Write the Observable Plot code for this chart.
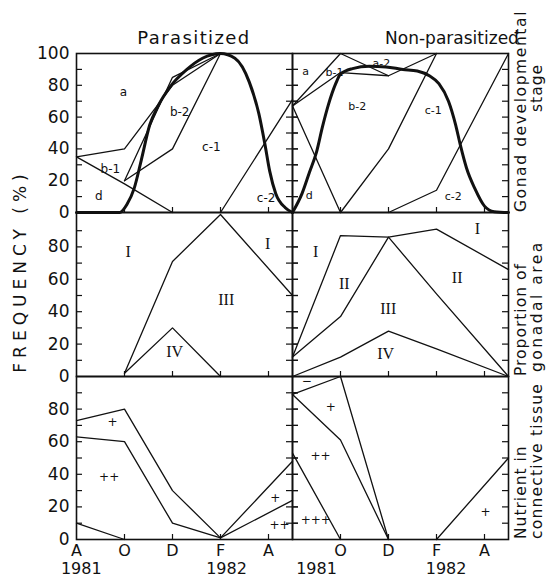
<!DOCTYPE html>
<html><head><meta charset="utf-8">
<script src="https://cdn.jsdelivr.net/npm/d3@7"></script>
<script src="https://cdn.jsdelivr.net/npm/@observablehq/plot@0.6"></script>
<style>
html,body{margin:0;padding:0;background:#fff;}
#chart{position:relative;width:547px;height:585px;overflow:hidden;font-family:"DejaVu Sans",sans-serif;}
#chart svg{position:absolute;overflow:visible;max-width:none;}
</style></head><body><div id="chart"></div>
<script>
// ---------- tick labels ----------
const monthTicksLeft = [0, 2, 4, 6, 8];
const monthTicksRight = [2, 4, 6, 8];
const monthNames = ["A", "O", "D", "F", "A"];
const yTickLabelsTop = [0, 20, 40, 60, 80, 100];
const yTickLabelsLow = [0, 20, 40, 60, 80];
const yMinorTicks = [10, 20, 30, 40, 50, 60, 70, 80, 90];
const innerMonthTicks = [2, 4, 6, 8];
const yearsLeft = [{x: 0.2, label: "1981"}, {x: 6.25, label: "1982"}];
const yearsRight = [{x: 1.0, label: "1981"}, {x: 6.4, label: "1982"}];

// ---------- Gonad developmental stage : parasitized ----------
const parStageA   = [[0,35],[2,40],[4,80],[6,100]];
const parStageD   = [[0,35],[2,18],[4,0]];
const parStageB1  = [[2,20],[4,85],[6,100]];
const parStageB2  = [[2,20],[4,40],[6,100]];
const parStageC2  = [[6,0],[9,71]];
const parStageSmooth = [[0,0],[1.8,0],[2.1,5],[2.4,15],[2.7,33],[3.05,55],[3.4,67],[3.9,79],[4.6,90],[5.25,97],[6,100],[6.6,97],[7.2,82],[7.6,62],[7.85,43],[8.05,26],[8.3,12],[8.7,3],[9,0]];
const parStageLabels = [
  {x:1.96,y:76,t:"a"},{x:1.41,y:27,t:"b-1"},{x:0.93,y:10,t:"d"},
  {x:4.3,y:63,t:"b-2"},{x:5.62,y:41,t:"c-1"},{x:7.9,y:9,t:"c-2"}];

// ---------- Gonad developmental stage : non-parasitized ----------
const nonStageA   = [[0,67],[2,100],[4,86],[6,100]];
const nonStageB1  = [[0,67],[2,88],[4,86]];
const nonStageD   = [[0,67],[2,0]];
const nonStageB2  = [[2,0],[4,40],[6,100]];
const nonStageC2  = [[4,0],[6,14],[9,100]];
const nonStageSmooth = [[0,0],[0.4,12],[0.7,25],[1.0,38],[1.25,54],[1.5,68],[1.8,81],[2.0,87],[2.5,90.5],[3.2,92],[3.9,91.5],[4.6,90],[5.2,89],[5.7,86],[6.1,81],[6.5,70],[6.8,55],[7.0,42],[7.25,28],[7.6,15],[8.0,4],[8.4,0.5],[9,0]];
const nonStageLabels = [
  {x:0.55,y:89,t:"a"},{x:1.75,y:88,t:"b-1"},{x:3.7,y:94,t:"a-2"},
  {x:2.7,y:67,t:"b-2"},{x:5.86,y:64,t:"c-1"},{x:6.7,y:10,t:"c-2"},{x:0.7,y:11,t:"d"}];

// ---------- Proportion of gonadal area ----------
const parAreaI   = [[2,2],[4,71],[6,100],[9,50]];
const parAreaIV  = [[2,2],[4,30],[6,0]];
const parAreaLabels = [{x:2.15,y:77,t:"I"},{x:7.97,y:82,t:"I"},{x:6.24,y:47,t:"III"},{x:4.09,y:15,t:"IV"}];

const nonAreaI   = [[0,12],[2,87],[4,86],[6,91],[9,66]];
const nonAreaII  = [[0,12],[2,37],[4,86],[6,51],[9,0]];
const nonAreaIV  = [[0,0],[2,12],[4,28],[6,17],[9,0]];
const nonAreaLabels = [{x:0.97,y:77,t:"I"},{x:2.16,y:57,t:"II"},{x:3.99,y:42,t:"III"},{x:3.88,y:14,t:"IV"},{x:6.86,y:61,t:"II"},{x:7.7,y:91,t:"I"}];

// ---------- Nutrient in connective tissue ----------
const parNutOne   = [[0,73],[2,80],[4,30],[6,1]];
const parNutTwo   = [[0,63],[2,60],[4,10],[6,1]];
const parNutThree = [[0,10],[2,0]];
const parNutOneB  = [[6,1],[9,48]];
const parNutTwoB  = [[6,1],[9,24]];
const parNutLabels = [{x:1.5,y:72,t:"+"},{x:1.36,y:38,t:"++"},{x:8.28,y:25.5,t:"+"},{x:8.46,y:8.6,t:"++"}];

const nonNutOne   = [[0,89],[2,61],[4,0]];
const nonNutNone  = [[0,89],[2,100],[4,0]];
const nonNutTwo   = [[0,53],[2,0]];
const nonNutOneB  = [[6,0],[9,50]];
const nonNutLabels = [{x:0.59,y:97,t:"\u2212"},{x:1.59,y:81,t:"+"},{x:1.17,y:51,t:"++"},{x:0.97,y:12,t:"+++"},{x:8.04,y:17,t:"+"}];

// ---------- layout ----------
const chart = document.getElementById("chart");
const W = 216;
const INK = "#111";

function panel({fx, fy, fh, side, lines, smooth, labels, labelFont, labelSize, yLabels, xLabels, years, insetTop}) {
  const mL = side === "left" ? 76 : 10;
  const mR = 12, mT = 10;
  const mB = xLabels ? 46 : 10;
  const marks = [];
  marks.push(Plot.tickY(yMinorTicks, {y: d => d, insetRight: W - 6, stroke: INK, strokeWidth: 1.2}));
  if (side === "left") {
    marks.push(Plot.tickY(yMinorTicks, {y: d => d, insetLeft: W - 6, insetRight: -6, stroke: INK, strokeWidth: 1.2}));
  } else {
    marks.push(Plot.tickY(yMinorTicks, {y: d => d, insetLeft: W - 6, stroke: INK, strokeWidth: 1.2}));
  }
  marks.push(Plot.tickX(innerMonthTicks, {x: d => d, insetTop: fh - 5, stroke: INK, strokeWidth: 1.2}));
  for (const l of lines) {
    marks.push(Plot.line(l, {x: d => d[0], y: d => d[1], stroke: INK, strokeWidth: 1.3}));
  }
  if (smooth) marks.push(Plot.line(smooth, {x: d => d[0], y: d => d[1], stroke: INK, strokeWidth: 3, curve: "monotone-x"}));
  marks.push(Plot.text(labels, {x: "x", y: "y", text: "t", fontSize: labelSize, fontFamily: labelFont, fill: INK}));
  marks.push(Plot.frame({stroke: INK, strokeWidth: 1.6}));
  if (yLabels) marks.push(Plot.axisY(yLabels, {anchor: "left", tickSize: 0, tickPadding: 7, fontSize: 17, label: null, fill: INK}));
  if (xLabels) {
    marks.push(Plot.axisX(xLabels, {anchor: "bottom", tickSize: 0, tickPadding: 5, fontSize: 16, label: null, fill: INK,
      tickFormat: d => monthNames[monthTicksLeft.indexOf(d)]}));
    marks.push(Plot.text(years, {x: "x", text: "label", frameAnchor: "bottom", dy: 34, fontSize: 16, fill: INK}));
  }
  const p = Plot.plot({
    width: W + mL + mR, height: fh + mT + mB,
    marginLeft: mL, marginRight: mR, marginTop: mT, marginBottom: mB,
    x: {domain: [0, 9], ...(xLabels ? {} : {axis: null})},
    y: {domain: [0, 100], insetTop: insetTop || 0, ...(yLabels ? {} : {axis: null})},
    style: {fontFamily: "DejaVu Sans", background: "transparent", overflow: "visible"},
    marks
  });
  p.style.left = (fx - mL) + "px";
  p.style.top = (fy - mT) + "px";
  chart.appendChild(p);
}

const LX = 76, RX = 292;
const TOP = {y: 53, h: 159}, MID = {y: 212, h: 164}, BOT = {y: 376, h: 163};
const SANS = "DejaVu Sans", SERIF = "Liberation Serif";

panel({fx: LX, fy: TOP.y, fh: TOP.h, side: "left", lines: [parStageA, parStageD, parStageB1, parStageB2, parStageC2], smooth: parStageSmooth, labels: parStageLabels, labelFont: SANS, labelSize: 12, yLabels: yTickLabelsTop});
panel({fx: RX, fy: TOP.y, fh: TOP.h, side: "right", lines: [nonStageA, nonStageB1, nonStageD, nonStageB2, nonStageC2], smooth: nonStageSmooth, labels: nonStageLabels, labelFont: SANS, labelSize: 11});
panel({fx: LX, fy: MID.y, fh: MID.h, side: "left", lines: [parAreaI, parAreaIV], labels: parAreaLabels, labelFont: SERIF, labelSize: 16, yLabels: yTickLabelsLow, insetTop: 2});
panel({fx: RX, fy: MID.y, fh: MID.h, side: "right", lines: [nonAreaI, nonAreaII, nonAreaIV], labels: nonAreaLabels, labelFont: SERIF, labelSize: 16, insetTop: 2});
panel({fx: LX, fy: BOT.y, fh: BOT.h, side: "left", lines: [parNutOne, parNutTwo, parNutThree, parNutOneB, parNutTwoB], labels: parNutLabels, labelFont: SANS, labelSize: 12, yLabels: yTickLabelsLow, xLabels: monthTicksLeft, years: yearsLeft});
panel({fx: RX, fy: BOT.y, fh: BOT.h, side: "right", lines: [nonNutOne, nonNutNone, nonNutTwo, nonNutOneB], labels: nonNutLabels, labelFont: SANS, labelSize: 12, xLabels: monthTicksRight, years: yearsRight});

// ---------- titles & side labels ----------
const ov = d3.create("svg").attr("width", 547).attr("height", 585)
  .style("left", "0px").style("top", "0px").style("pointer-events", "none")
  .attr("font-family", "DejaVu Sans").attr("fill", INK);
ov.append("text").attr("x", 194).attr("y", 44).attr("text-anchor", "middle").attr("font-size", 18).attr("letter-spacing", 1.4).text("Parasitized");
ov.append("text").attr("x", 452).attr("y", 44).attr("text-anchor", "middle").attr("font-size", 17).attr("letter-spacing", 0).text("Non-parasitized");
ov.append("text").attr("transform", "translate(20,271) rotate(-90)").attr("text-anchor", "middle").attr("dominant-baseline", "central")
  .attr("font-size", 17).attr("letter-spacing", 5).text("FREQUENCY (%)");
const side = [
  {x: 521, y: 212, t: "Gonad developmental", a: "start", ls: 1.6},
  {x: 537, y: 88, t: "stage", a: "middle", ls: 1},
  {x: 521, y: 376, t: "Proportion of", a: "start", ls: 1},
  {x: 537, y: 372, t: "gonadal area", a: "start", ls: 2.5},
  {x: 521, y: 539, t: "Nutrient in", a: "start", ls: 1},
  {x: 537, y: 539, t: "connective tissue", a: "start", ls: 1.2}
];
for (const s of side) {
  ov.append("text").attr("transform", `translate(${s.x},${s.y}) rotate(-90)`).attr("text-anchor", s.a)
    .attr("dominant-baseline", "central").attr("font-size", 15.5).attr("letter-spacing", s.ls).text(s.t);
}
chart.appendChild(ov.node());
</script></body></html>
